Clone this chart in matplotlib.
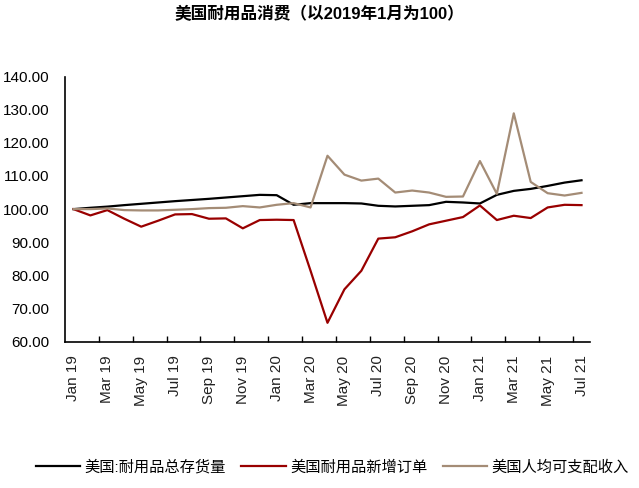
import matplotlib
matplotlib.use('Agg')
import matplotlib.pyplot as plt

plt.rcParams['font.family'] = ['Liberation Sans', 'Noto Sans CJK SC', 'DejaVu Sans']

months = ['Jan 19', 'Feb 19', 'Mar 19', 'Apr 19', 'May 19', 'Jun 19', 'Jul 19', 'Aug 19',
          'Sep 19', 'Oct 19', 'Nov 19', 'Dec 19', 'Jan 20', 'Feb 20', 'Mar 20', 'Apr 20',
          'May 20', 'Jun 20', 'Jul 20', 'Aug 20', 'Sep 20', 'Oct 20', 'Nov 20', 'Dec 20',
          'Jan 21', 'Feb 21', 'Mar 21', 'Apr 21', 'May 21', 'Jun 21', 'Jul 21']

# 美国:耐用品总存货量
inventory = [100.0, 100.4, 100.75, 101.2, 101.6, 102.0, 102.4, 102.75, 103.1, 103.5, 103.9,
             104.3, 104.2, 101.3, 101.8, 101.8, 101.8, 101.7, 101.0, 100.8, 101.0, 101.2,
             102.2, 102.0, 101.7, 104.3, 105.5, 106.1, 107.0, 108.0, 108.7]
# 美国耐用品新增订单
new_orders = [100.0, 98.1, 99.7, 97.1, 94.7, 96.5, 98.4, 98.5, 97.1, 97.2, 94.2,
              96.7, 96.8, 96.7, 81.4, 65.7, 75.8, 81.4, 91.1, 91.5, 93.3, 95.4,
              96.5, 97.6, 101.1, 96.7, 98.0, 97.3, 100.5, 101.3, 101.2]
# 美国人均可支配收入
income = [100.0, 100.0, 100.2, 99.7, 99.6, 99.6, 99.8, 100.0, 100.3, 100.4, 100.9,
          100.5, 101.3, 101.8, 100.5, 116.1, 110.4, 108.6, 109.2, 105.0, 105.6, 105.0,
          103.7, 103.8, 114.5, 104.6, 128.9, 108.2, 104.8, 104.1, 104.9]

x = list(range(len(months)))

fig = plt.figure(figsize=(6.39, 4.88), dpi=100)
ax = fig.add_axes([0.1017, 0.2998, 0.8216, 0.5434])

ax.plot(x, inventory, color='black', lw=1.6, label='美国:耐用品总存货量')
ax.plot(x, new_orders, color='#990000', lw=1.6, label='美国耐用品新增订单')
ax.plot(x, income, color='#A48C76', lw=1.6, label='美国人均可支配收入')

ax.set_xlim(-0.5, len(months) - 0.5)
ax.set_ylim(60, 140)
ax.set_yticks(range(60, 141, 10))
ax.set_yticklabels([f'{v:.2f}' for v in range(60, 141, 10)], fontsize=11)
ax.tick_params(axis='y', length=0, pad=11)

ax.set_xticks(x[::2])
ax.set_xticklabels(months[::2], rotation=90, fontsize=11, color='#222222')
ax.tick_params(axis='x', which='major', length=0, pad=10)
ax.set_xticks([i + 1.5 for i in range(0, len(months) - 1, 2)], minor=True)
ax.tick_params(axis='x', which='minor', direction='in', length=4, width=1)

for s in ['top', 'right']:
    ax.spines[s].set_visible(False)
ax.spines['left'].set_linewidth(1.2)
ax.spines['bottom'].set_linewidth(1.2)

fig.text(0.5, 0.972, '美国耐用品消费（以2019年1月为100）', ha='center', va='center',
         fontsize=12, fontweight='bold')

fig.legend(loc='center', bbox_to_anchor=(0.52, 0.043), ncol=3, frameon=False,
           fontsize=11, handlelength=2.9, handletextpad=0.3, columnspacing=1.0)

fig.savefig('out.png', dpi=100)
